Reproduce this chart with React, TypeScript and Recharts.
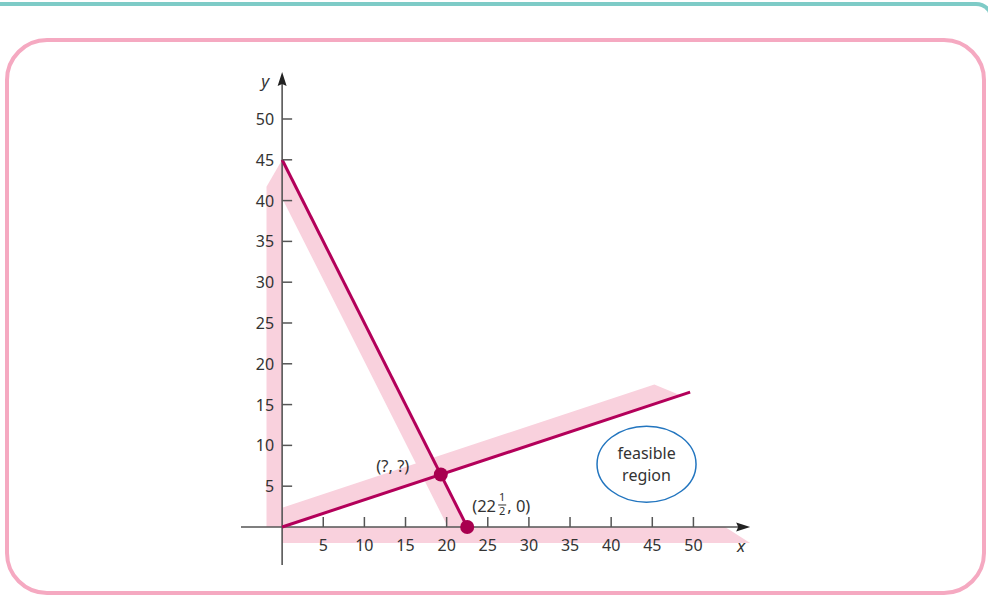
import React from 'react';
import { ComposedChart, XAxis, YAxis, Line, Area, Scatter, ReferenceLine } from 'recharts';

// ---- data ----
const xTicks = [5, 10, 15, 20, 25, 30, 35, 40, 45, 50];
const yTicks = [5, 10, 15, 20, 25, 30, 35, 40, 45, 50];

const constraintA = [
  { x: 0, y: 45 },
  { x: 22.5, y: 0 },
];
const constraintB = [
  { x: 0, y: 0 },
  { x: 49.6, y: 16.53 },
];
const vertices = [
  { x: 19.29, y: 6.43 },
  { x: 22.5, y: 0 },
];

// shaded bands (range [low, high] for each x)
const bandYAxis = [
  { x: -1.9, r: [0, 41.7] },
  { x: 0, r: [0, 45] },
];
const bandA = [
  { x: 0, r: [40.3, 45] },
  { x: 20.15, r: [0, 4.7] },
  { x: 22.5, r: [0, 0] },
];
const bandB = [
  { x: 0, r: [0, 2.35] },
  { x: 45.25, r: [15.08, 17.45] },
  { x: 48.4, r: [16.13, 16.13] },
];
const bandXAxis = [
  { x: 0, r: [-1.96, 0] },
  { x: 53.85, r: [-1.96, 0] },
  { x: 56.9, r: [-1.96, -1.96] },
];

const xAxisEnd = 56.9;
const yAxisEnd = 55.76;
const xDomain = [-5, 57];
const yDomain = [-4.66, 55.76];
const regionLabel = [{ x: 44.3, y: 7.7 }];

const LINE = '#b3005a';
const DOT = '#a8004f';
const BAND = '#f9d1dd';
const AXIS = '#555555';
const TEXT = '#333333';
const FONT = '"Noto Sans", "Open Sans", sans-serif';
const TICK_SIZE = 16;

const xTickData = xTicks.map((v) => ({ x: v, y: 0 }));
const yTickData = yTicks.map((v) => ({ x: 0, y: v }));

const XTickShape = (p: any) => (
  <g>
    <line x1={p.cx} y1={p.cy} x2={p.cx} y2={p.cy - 10} stroke={AXIS} strokeWidth={1.5} />
    <text x={p.cx} y={p.cy + 24} textAnchor="middle" fontSize={TICK_SIZE} fill={TEXT} fontFamily={FONT}>
      {p.payload.x}
    </text>
  </g>
);

const YTickShape = (p: any) => (
  <g>
    <line x1={p.cx} y1={p.cy} x2={p.cx + 10} y2={p.cy} stroke={AXIS} strokeWidth={1.5} />
    <text x={p.cx - 8} y={p.cy + 6} textAnchor="end" fontSize={TICK_SIZE} fill={TEXT} fontFamily={FONT}>
      {p.payload.y}
    </text>
  </g>
);

const YArrow = (p: any) => (
  <g>
    <polygon
      points={`${p.cx},${p.cy} ${p.cx - 4.5},${p.cy + 14} ${p.cx},${p.cy + 12} ${p.cx + 4.5},${p.cy + 14}`}
      fill="#222"
    />
    <text x={p.cx - 17} y={p.cy + 15} textAnchor="middle" fontSize={17} fontStyle="italic" fill={TEXT} fontFamily={FONT}>
      y
    </text>
  </g>
);

const XArrow = (p: any) => (
  <g>
    <polygon
      points={`${p.cx},${p.cy} ${p.cx - 14},${p.cy - 4.5} ${p.cx - 12},${p.cy} ${p.cx - 14},${p.cy + 4.5}`}
      fill="#222"
    />
    <text x={p.cx - 9} y={p.cy + 25} textAnchor="middle" fontSize={17} fontStyle="italic" fill={TEXT} fontFamily={FONT}>
      x
    </text>
  </g>
);

const VertexShape = (p: any) => {
  const isFirst = p.payload.y > 0;
  return (
    <g>
      <circle cx={p.cx} cy={p.cy} r={7} fill={DOT} />
      {isFirst ? (
        <text x={p.cx - 48} y={p.cy - 3} textAnchor="middle" fontSize={16.5} fill={TEXT} fontFamily={FONT}>
          (?, ?)
        </text>
      ) : (
        <g fontFamily={FONT} fill={TEXT}>
          <text x={p.cx + 5} y={p.cy - 15} fontSize={16.5}>(22</text>
          <text x={p.cx + 35} y={p.cy - 26} fontSize={11} textAnchor="middle">1</text>
          <line x1={p.cx + 31} y1={p.cy - 22} x2={p.cx + 39} y2={p.cy - 22} stroke={TEXT} strokeWidth={1} />
          <text x={p.cx + 35} y={p.cy - 12} fontSize={11} textAnchor="middle">2</text>
          <text x={p.cx + 40} y={p.cy - 15} fontSize={16.5}>, 0)</text>
        </g>
      )}
    </g>
  );
};

const RegionShape = (p: any) => (
  <g>
    <ellipse cx={p.cx} cy={p.cy} rx={49.5} ry={38} fill="none" stroke="#2275bf" strokeWidth={1.5} />
    <text x={p.cx} y={p.cy - 5} textAnchor="middle" fontSize={16} fill={TEXT} fontFamily={FONT}>
      feasible
    </text>
    <text x={p.cx} y={p.cy + 17} textAnchor="middle" fontSize={16} fill={TEXT} fontFamily={FONT}>
      region
    </text>
  </g>
);

export default function App() {
  return (
    <div
      style={{
        position: 'absolute',
        left: 0,
        top: 0,
        width: 988,
        height: 596,
        overflow: 'hidden',
        background: '#fff',
      }}
    >
      <div
        style={{
          position: 'absolute',
          left: -20,
          top: 1.5,
          width: 1014,
          height: 200,
          borderTop: '4px solid #7ecbc7',
          borderRight: '4px solid #7ecbc7',
          borderTopRightRadius: 18,
          boxSizing: 'border-box',
        }}
      />
      <div
        style={{
          position: 'absolute',
          left: 4.5,
          top: 38,
          width: 981,
          height: 557,
          border: '4px solid #f5a9c1',
          borderRadius: 42,
          boxSizing: 'border-box',
        }}
      />
      <div style={{ position: 'absolute', left: 0, top: 0 }}>
        <ComposedChart
          width={988}
          height={596}
          margin={{ top: 72, right: 237, bottom: 31, left: 241 }}
        >
          <XAxis type="number" dataKey="x" domain={xDomain} allowDataOverflow hide />
          <YAxis type="number" dataKey="y" domain={yDomain} allowDataOverflow hide />

          <Area data={bandYAxis} dataKey="r" type="linear" fill={BAND} fillOpacity={1} stroke="none" isAnimationActive={false} />
          <Area data={bandA} dataKey="r" type="linear" fill={BAND} fillOpacity={1} stroke="none" isAnimationActive={false} />
          <Area data={bandB} dataKey="r" type="linear" fill={BAND} fillOpacity={1} stroke="none" isAnimationActive={false} />
          <Area data={bandXAxis} dataKey="r" type="linear" fill={BAND} fillOpacity={1} stroke="none" isAnimationActive={false} />

          <ReferenceLine segment={[{ x: xDomain[0], y: 0 }, { x: xAxisEnd - 0.5, y: 0 }]} stroke={AXIS} strokeWidth={1.6} />
          <ReferenceLine segment={[{ x: 0, y: yDomain[0] }, { x: 0, y: yAxisEnd - 0.5 }]} stroke={AXIS} strokeWidth={1.6} />

          <Scatter data={xTickData} shape={XTickShape} isAnimationActive={false} />
          <Scatter data={yTickData} shape={YTickShape} isAnimationActive={false} />
          <Scatter data={[{ x: 0, y: yAxisEnd }]} shape={YArrow} isAnimationActive={false} />
          <Scatter data={[{ x: xAxisEnd, y: 0 }]} shape={XArrow} isAnimationActive={false} />

          <Line data={constraintA} dataKey="y" type="linear" stroke={LINE} strokeWidth={3} dot={false} isAnimationActive={false} />
          <Line data={constraintB} dataKey="y" type="linear" stroke={LINE} strokeWidth={3} dot={false} isAnimationActive={false} />

          <Scatter data={vertices} shape={VertexShape} isAnimationActive={false} />
          <Scatter data={regionLabel} shape={RegionShape} isAnimationActive={false} />
        </ComposedChart>
      </div>
    </div>
  );
}
